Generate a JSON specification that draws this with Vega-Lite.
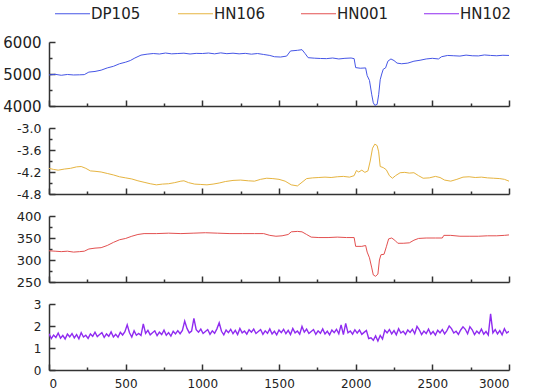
{
  "$schema": "https://vega.github.io/schema/vega-lite/v6.json",
  "padding": {"left": 2, "top": 4, "right": 5, "bottom": 5},
  "background": "white",
  "bounds": "flush",
  "spacing": 22,
  "config": {
    "view": {"stroke": null},
    "font": "DejaVu Sans",
    "axis": {"grid": false, "domainColor": "#333", "tickColor": "#333", "labelColor": "#222", "labelFont": "DejaVu Sans", "domainWidth": 1.5, "tickWidth": 1.5, "title": null},
    "legend": {"orient": "none", "legendX": 14, "legendY": -38, "direction": "horizontal", "columns": 4, "symbolType": "M-2,0H2", "symbolSize": 306, "symbolStrokeWidth": 1.2, "labelFontSize": 15, "labelFont": "DejaVu Sans", "labelColor": "#222", "columnPadding": 32, "gridAlign": "all", "labelOffset": 9, "padding": 0}
  },
  "datasets": {
    "dp105": [
      {"x":0,"v":4970},{"x":40,"v":4990},{"x":80,"v":4960},{"x":120,"v":4985},{"x":160,"v":4970},{"x":200,"v":4975},{"x":230,"v":4980},{"x":260,"v":5060},{"x":300,"v":5080},{"x":340,"v":5120},{"x":380,"v":5190},{"x":420,"v":5240},{"x":460,"v":5320},{"x":500,"v":5370},{"x":530,"v":5420},{"x":560,"v":5500},{"x":600,"v":5590},{"x":640,"v":5620},{"x":680,"v":5640},{"x":720,"v":5625},{"x":760,"v":5655},{"x":800,"v":5630},{"x":840,"v":5640},{"x":880,"v":5650},{"x":920,"v":5625},{"x":960,"v":5645},{"x":1000,"v":5640},{"x":1040,"v":5655},{"x":1080,"v":5630},{"x":1120,"v":5660},{"x":1160,"v":5635},{"x":1200,"v":5650},{"x":1240,"v":5630},{"x":1280,"v":5645},{"x":1320,"v":5620},{"x":1360,"v":5640},{"x":1400,"v":5610},{"x":1440,"v":5580},{"x":1470,"v":5540},{"x":1510,"v":5530},{"x":1550,"v":5560},{"x":1575,"v":5720},{"x":1620,"v":5740},{"x":1650,"v":5760},{"x":1670,"v":5640},{"x":1690,"v":5510},{"x":1730,"v":5495},{"x":1770,"v":5485},{"x":1810,"v":5480},{"x":1850,"v":5500},{"x":1890,"v":5470},{"x":1930,"v":5490},{"x":1970,"v":5500},{"x":1990,"v":5480},{"x":2000,"v":5200},{"x":2030,"v":5180},{"x":2065,"v":5190},{"x":2075,"v":4950},{"x":2090,"v":4800},{"x":2105,"v":4350},{"x":2115,"v":4100},{"x":2125,"v":4020},{"x":2140,"v":4050},{"x":2150,"v":4350},{"x":2160,"v":4820},{"x":2170,"v":5000},{"x":2180,"v":5150},{"x":2195,"v":5190},{"x":2210,"v":5400},{"x":2230,"v":5470},{"x":2250,"v":5420},{"x":2270,"v":5340},{"x":2300,"v":5320},{"x":2340,"v":5340},{"x":2380,"v":5400},{"x":2420,"v":5430},{"x":2460,"v":5470},{"x":2500,"v":5490},{"x":2540,"v":5470},{"x":2560,"v":5540},{"x":2600,"v":5580},{"x":2640,"v":5570},{"x":2680,"v":5560},{"x":2720,"v":5590},{"x":2760,"v":5570},{"x":2800,"v":5565},{"x":2840,"v":5595},{"x":2880,"v":5580},{"x":2920,"v":5570},{"x":2960,"v":5585},{"x":3000,"v":5580}
    ],
    "hn106": [
      {"x":0,"v":-4.10},{"x":30,"v":-4.13},{"x":60,"v":-4.15},{"x":100,"v":-4.12},{"x":140,"v":-4.10},{"x":180,"v":-4.06},{"x":210,"v":-4.05},{"x":240,"v":-4.10},{"x":270,"v":-4.17},{"x":300,"v":-4.18},{"x":340,"v":-4.20},{"x":380,"v":-4.24},{"x":420,"v":-4.28},{"x":460,"v":-4.33},{"x":500,"v":-4.36},{"x":540,"v":-4.39},{"x":580,"v":-4.44},{"x":620,"v":-4.48},{"x":660,"v":-4.52},{"x":700,"v":-4.55},{"x":740,"v":-4.53},{"x":780,"v":-4.52},{"x":820,"v":-4.49},{"x":860,"v":-4.45},{"x":880,"v":-4.44},{"x":910,"v":-4.49},{"x":950,"v":-4.53},{"x":990,"v":-4.54},{"x":1030,"v":-4.55},{"x":1070,"v":-4.53},{"x":1110,"v":-4.50},{"x":1150,"v":-4.46},{"x":1200,"v":-4.43},{"x":1250,"v":-4.42},{"x":1300,"v":-4.44},{"x":1340,"v":-4.45},{"x":1380,"v":-4.40},{"x":1420,"v":-4.37},{"x":1460,"v":-4.38},{"x":1500,"v":-4.40},{"x":1540,"v":-4.45},{"x":1580,"v":-4.55},{"x":1620,"v":-4.58},{"x":1650,"v":-4.48},{"x":1680,"v":-4.38},{"x":1720,"v":-4.36},{"x":1760,"v":-4.35},{"x":1800,"v":-4.34},{"x":1840,"v":-4.35},{"x":1880,"v":-4.33},{"x":1920,"v":-4.32},{"x":1960,"v":-4.34},{"x":1990,"v":-4.30},{"x":2005,"v":-4.16},{"x":2020,"v":-4.20},{"x":2040,"v":-4.15},{"x":2060,"v":-4.21},{"x":2080,"v":-4.17},{"x":2095,"v":-3.90},{"x":2110,"v":-3.55},{"x":2125,"v":-3.44},{"x":2140,"v":-3.48},{"x":2150,"v":-3.65},{"x":2160,"v":-4.05},{"x":2180,"v":-4.08},{"x":2200,"v":-4.14},{"x":2220,"v":-4.30},{"x":2240,"v":-4.37},{"x":2260,"v":-4.30},{"x":2290,"v":-4.22},{"x":2320,"v":-4.21},{"x":2350,"v":-4.23},{"x":2380,"v":-4.22},{"x":2410,"v":-4.30},{"x":2440,"v":-4.37},{"x":2480,"v":-4.36},{"x":2520,"v":-4.32},{"x":2550,"v":-4.35},{"x":2580,"v":-4.42},{"x":2620,"v":-4.45},{"x":2660,"v":-4.40},{"x":2700,"v":-4.34},{"x":2740,"v":-4.33},{"x":2780,"v":-4.35},{"x":2820,"v":-4.34},{"x":2860,"v":-4.36},{"x":2900,"v":-4.37},{"x":2940,"v":-4.38},{"x":2970,"v":-4.40},{"x":3000,"v":-4.45}
    ],
    "hn001": [
      {"x":0,"v":321},{"x":40,"v":320},{"x":80,"v":319},{"x":120,"v":320},{"x":160,"v":318},{"x":200,"v":319},{"x":230,"v":320},{"x":260,"v":325},{"x":300,"v":327},{"x":340,"v":328},{"x":380,"v":333},{"x":420,"v":340},{"x":460,"v":346},{"x":500,"v":349},{"x":540,"v":354},{"x":580,"v":358},{"x":620,"v":360},{"x":700,"v":360},{"x":780,"v":361},{"x":860,"v":360},{"x":940,"v":361},{"x":1020,"v":362},{"x":1100,"v":361},{"x":1180,"v":360},{"x":1260,"v":360},{"x":1340,"v":360},{"x":1400,"v":360},{"x":1440,"v":356},{"x":1480,"v":354},{"x":1520,"v":355},{"x":1560,"v":358},{"x":1580,"v":364},{"x":1620,"v":365},{"x":1650,"v":364},{"x":1680,"v":358},{"x":1710,"v":352},{"x":1760,"v":351},{"x":1820,"v":351},{"x":1880,"v":352},{"x":1940,"v":351},{"x":1990,"v":351},{"x":2000,"v":331},{"x":2040,"v":331},{"x":2065,"v":333},{"x":2075,"v":318},{"x":2090,"v":305},{"x":2105,"v":282},{"x":2115,"v":266},{"x":2130,"v":263},{"x":2145,"v":268},{"x":2155,"v":300},{"x":2165,"v":312},{"x":2185,"v":313},{"x":2200,"v":330},{"x":2215,"v":348},{"x":2235,"v":350},{"x":2255,"v":345},{"x":2275,"v":338},{"x":2310,"v":338},{"x":2350,"v":339},{"x":2380,"v":345},{"x":2410,"v":349},{"x":2460,"v":350},{"x":2520,"v":350},{"x":2565,"v":350},{"x":2575,"v":356},{"x":2620,"v":356},{"x":2680,"v":354},{"x":2740,"v":354},{"x":2800,"v":354},{"x":2860,"v":355},{"x":2920,"v":355},{"x":2970,"v":356},{"x":3000,"v":357}
    ],
    "hn102": [
      {"x":0,"v":1.65},{"x":15,"v":1.43},{"x":30,"v":1.59},{"x":45,"v":1.48},{"x":60,"v":1.68},{"x":75,"v":1.45},{"x":90,"v":1.57},{"x":105,"v":1.41},{"x":120,"v":1.63},{"x":135,"v":1.51},{"x":150,"v":1.66},{"x":165,"v":1.46},{"x":180,"v":1.61},{"x":195,"v":1.42},{"x":210,"v":1.70},{"x":225,"v":1.50},{"x":240,"v":1.58},{"x":255,"v":1.44},{"x":270,"v":1.64},{"x":285,"v":1.53},{"x":300,"v":1.72},{"x":315,"v":1.52},{"x":330,"v":1.61},{"x":345,"v":1.70},{"x":360,"v":1.48},{"x":375,"v":1.64},{"x":390,"v":1.53},{"x":405,"v":1.73},{"x":420,"v":1.50},{"x":435,"v":1.62},{"x":450,"v":1.49},{"x":465,"v":1.71},{"x":480,"v":1.59},{"x":495,"v":1.74},{"x":510,"v":2.05},{"x":525,"v":1.69},{"x":540,"v":1.50},{"x":555,"v":1.78},{"x":570,"v":1.58},{"x":585,"v":1.66},{"x":600,"v":1.57},{"x":615,"v":2.10},{"x":630,"v":1.66},{"x":645,"v":1.80},{"x":660,"v":1.60},{"x":675,"v":1.69},{"x":690,"v":1.78},{"x":705,"v":1.56},{"x":720,"v":1.72},{"x":735,"v":1.61},{"x":750,"v":1.81},{"x":765,"v":1.58},{"x":780,"v":1.70},{"x":795,"v":1.54},{"x":810,"v":1.76},{"x":825,"v":1.64},{"x":840,"v":1.79},{"x":855,"v":1.65},{"x":870,"v":1.80},{"x":885,"v":2.22},{"x":900,"v":1.89},{"x":915,"v":1.69},{"x":930,"v":1.77},{"x":945,"v":2.35},{"x":960,"v":1.83},{"x":975,"v":1.72},{"x":990,"v":1.86},{"x":1005,"v":1.66},{"x":1020,"v":1.75},{"x":1035,"v":1.84},{"x":1050,"v":1.62},{"x":1065,"v":1.78},{"x":1080,"v":1.67},{"x":1095,"v":1.87},{"x":1110,"v":2.15},{"x":1125,"v":1.76},{"x":1140,"v":1.60},{"x":1155,"v":1.82},{"x":1170,"v":1.70},{"x":1185,"v":1.85},{"x":1200,"v":1.65},{"x":1215,"v":1.80},{"x":1230,"v":1.61},{"x":1245,"v":1.89},{"x":1260,"v":1.69},{"x":1275,"v":1.77},{"x":1290,"v":1.63},{"x":1305,"v":1.83},{"x":1320,"v":1.72},{"x":1335,"v":1.86},{"x":1350,"v":1.66},{"x":1365,"v":1.75},{"x":1380,"v":1.84},{"x":1395,"v":1.62},{"x":1410,"v":1.78},{"x":1425,"v":1.67},{"x":1440,"v":1.87},{"x":1455,"v":1.64},{"x":1470,"v":1.76},{"x":1485,"v":1.60},{"x":1500,"v":1.82},{"x":1515,"v":1.70},{"x":1530,"v":1.85},{"x":1545,"v":1.65},{"x":1560,"v":1.80},{"x":1575,"v":1.61},{"x":1590,"v":1.89},{"x":1605,"v":1.69},{"x":1620,"v":1.77},{"x":1635,"v":1.63},{"x":1650,"v":1.98},{"x":1665,"v":1.72},{"x":1680,"v":1.86},{"x":1695,"v":1.66},{"x":1710,"v":1.75},{"x":1725,"v":1.84},{"x":1740,"v":1.62},{"x":1755,"v":1.78},{"x":1770,"v":1.67},{"x":1785,"v":1.87},{"x":1800,"v":1.64},{"x":1815,"v":1.76},{"x":1830,"v":1.60},{"x":1845,"v":1.82},{"x":1860,"v":1.70},{"x":1875,"v":1.85},{"x":1890,"v":1.65},{"x":1905,"v":2.05},{"x":1920,"v":1.61},{"x":1935,"v":2.12},{"x":1950,"v":1.69},{"x":1965,"v":1.77},{"x":1980,"v":1.63},{"x":1995,"v":1.83},{"x":2010,"v":1.68},{"x":2025,"v":1.82},{"x":2040,"v":1.62},{"x":2055,"v":1.71},{"x":2070,"v":1.80},{"x":2085,"v":1.43},{"x":2100,"v":1.46},{"x":2115,"v":1.35},{"x":2130,"v":1.55},{"x":2145,"v":1.32},{"x":2160,"v":1.57},{"x":2175,"v":1.41},{"x":2190,"v":1.81},{"x":2205,"v":1.69},{"x":2220,"v":1.84},{"x":2235,"v":1.64},{"x":2250,"v":1.79},{"x":2265,"v":1.60},{"x":2280,"v":1.88},{"x":2295,"v":1.68},{"x":2310,"v":1.76},{"x":2325,"v":1.62},{"x":2340,"v":1.82},{"x":2355,"v":1.71},{"x":2370,"v":1.85},{"x":2385,"v":1.65},{"x":2400,"v":1.98},{"x":2415,"v":1.83},{"x":2430,"v":1.61},{"x":2445,"v":1.77},{"x":2460,"v":1.66},{"x":2475,"v":1.86},{"x":2490,"v":1.63},{"x":2505,"v":1.75},{"x":2520,"v":1.59},{"x":2535,"v":1.81},{"x":2550,"v":1.69},{"x":2565,"v":1.84},{"x":2580,"v":1.64},{"x":2595,"v":1.79},{"x":2610,"v":2.00},{"x":2625,"v":1.88},{"x":2640,"v":1.68},{"x":2655,"v":1.76},{"x":2670,"v":1.62},{"x":2685,"v":1.82},{"x":2700,"v":1.96},{"x":2715,"v":1.85},{"x":2730,"v":1.65},{"x":2745,"v":1.97},{"x":2760,"v":1.83},{"x":2775,"v":1.61},{"x":2790,"v":1.77},{"x":2805,"v":1.66},{"x":2820,"v":1.86},{"x":2835,"v":1.63},{"x":2850,"v":1.75},{"x":2865,"v":1.59},{"x":2880,"v":2.55},{"x":2895,"v":1.69},{"x":2910,"v":1.84},{"x":2925,"v":1.64},{"x":2940,"v":1.79},{"x":2955,"v":1.60},{"x":2970,"v":1.88},{"x":2985,"v":1.68},{"x":3000,"v":1.76}
    ]
  },
  "vconcat": [
    {
      "width": 460, "height": 64,
      "data": {"name": "dp105"},
      "mark": {"type": "line", "strokeWidth": 1, "clip": true},
      "encoding": {
        "x": {"field": "x", "type": "quantitative", "scale": {"domain": [0, 3000], "nice": false},
          "axis": {"values": [0,250,500,750,1000,1250,1500,1750,2000,2250,2500,2750,3000], "labels": false, "tickSize": {"condition": {"test": "datum.value % 500 === 0", "value": -6}, "value": -3}}},
        "y": {"field": "v", "type": "quantitative", "scale": {"domain": [4000, 6000], "nice": false, "zero": false},
          "axis": {"values": [4000,4500,5000,5500,6000], "format": "d", "labelExpr": "datum.value % 1000 === 0 ? datum.label : ''", "labelFontSize": 15, "labelPadding": 14, "tickSize": {"condition": {"test": "datum.value % 1000 === 0", "value": -6}, "value": -3}}},
        "color": {"datum": "DP105", "type": "nominal", "scale": {"domain": ["DP105","HN106","HN001","HN102"], "range": ["#4656e6","#e6b440","#e35050","#8f2bf0"]}, "legend": {"title": null}}
      }
    },
    {
      "width": 460, "height": 66,
      "data": {"name": "hn106"},
      "mark": {"type": "line", "strokeWidth": 1, "clip": true},
      "encoding": {
        "x": {"field": "x", "type": "quantitative", "scale": {"domain": [0, 3000], "nice": false},
          "axis": {"values": [0,250,500,750,1000,1250,1500,1750,2000,2250,2500,2750,3000], "labels": false, "tickSize": {"condition": {"test": "datum.value % 500 === 0", "value": -6}, "value": -3}}},
        "y": {"field": "v", "type": "quantitative", "scale": {"domain": [-4.8, -3.0], "nice": false, "zero": false},
          "axis": {"values": [-4.8,-4.5,-4.2,-3.9,-3.6,-3.3,-3.0], "labelExpr": "round(datum.value*10) % 6 === 0 ? replace(format(datum.value, '.1f'), '\u2212', '-') : ''", "labelFontSize": 12.5, "labelPadding": 14, "tickSize": {"condition": {"test": "round(datum.value*10) % 6 === 0", "value": -6}, "value": -3}}},
        "color": {"datum": "HN106", "type": "nominal", "scale": {"domain": ["DP105","HN106","HN001","HN102"], "range": ["#4656e6","#e6b440","#e35050","#8f2bf0"]}, "legend": {"title": null}}
      }
    },
    {
      "width": 460, "height": 66,
      "data": {"name": "hn001"},
      "mark": {"type": "line", "strokeWidth": 1, "clip": true},
      "encoding": {
        "x": {"field": "x", "type": "quantitative", "scale": {"domain": [0, 3000], "nice": false},
          "axis": {"values": [0,250,500,750,1000,1250,1500,1750,2000,2250,2500,2750,3000], "labels": false, "tickSize": {"condition": {"test": "datum.value % 500 === 0", "value": -6}, "value": -3}}},
        "y": {"field": "v", "type": "quantitative", "scale": {"domain": [250, 400], "nice": false, "zero": false},
          "axis": {"values": [250,275,300,325,350,375,400], "format": "d", "labelExpr": "datum.value % 50 === 0 ? datum.label : ''", "labelFontSize": 13, "labelPadding": 14, "tickSize": {"condition": {"test": "datum.value % 50 === 0", "value": -6}, "value": -3}}},
        "color": {"datum": "HN001", "type": "nominal", "scale": {"domain": ["DP105","HN106","HN001","HN102"], "range": ["#4656e6","#e6b440","#e35050","#8f2bf0"]}, "legend": {"title": null}}
      }
    },
    {
      "width": 460, "height": 66,
      "data": {"name": "hn102"},
      "mark": {"type": "line", "strokeWidth": 1.4, "clip": true},
      "encoding": {
        "x": {"field": "x", "type": "quantitative", "scale": {"domain": [0, 3000], "nice": false},
          "axis": {"values": [0,250,500,750,1000,1250,1500,1750,2000,2250,2500,2750,3000], "format": "d", "labelExpr": "datum.value % 500 === 0 ? datum.label : ''", "labelFontSize": 12, "labelPadding": 14, "tickSize": {"condition": {"test": "datum.value % 500 === 0", "value": -6}, "value": -3}}},
        "y": {"field": "v", "type": "quantitative", "scale": {"domain": [0, 3], "nice": false, "zero": false},
          "axis": {"values": [0,0.5,1,1.5,2,2.5,3], "format": "d", "labelExpr": "datum.value % 1 === 0 ? datum.label : ''", "labelFontSize": 12, "labelPadding": 14, "tickSize": {"condition": {"test": "datum.value % 1 === 0", "value": -6}, "value": -3}}},
        "color": {"datum": "HN102", "type": "nominal", "scale": {"domain": ["DP105","HN106","HN001","HN102"], "range": ["#4656e6","#e6b440","#e35050","#8f2bf0"]}, "legend": {"title": null}}
      }
    }
  ]
}
